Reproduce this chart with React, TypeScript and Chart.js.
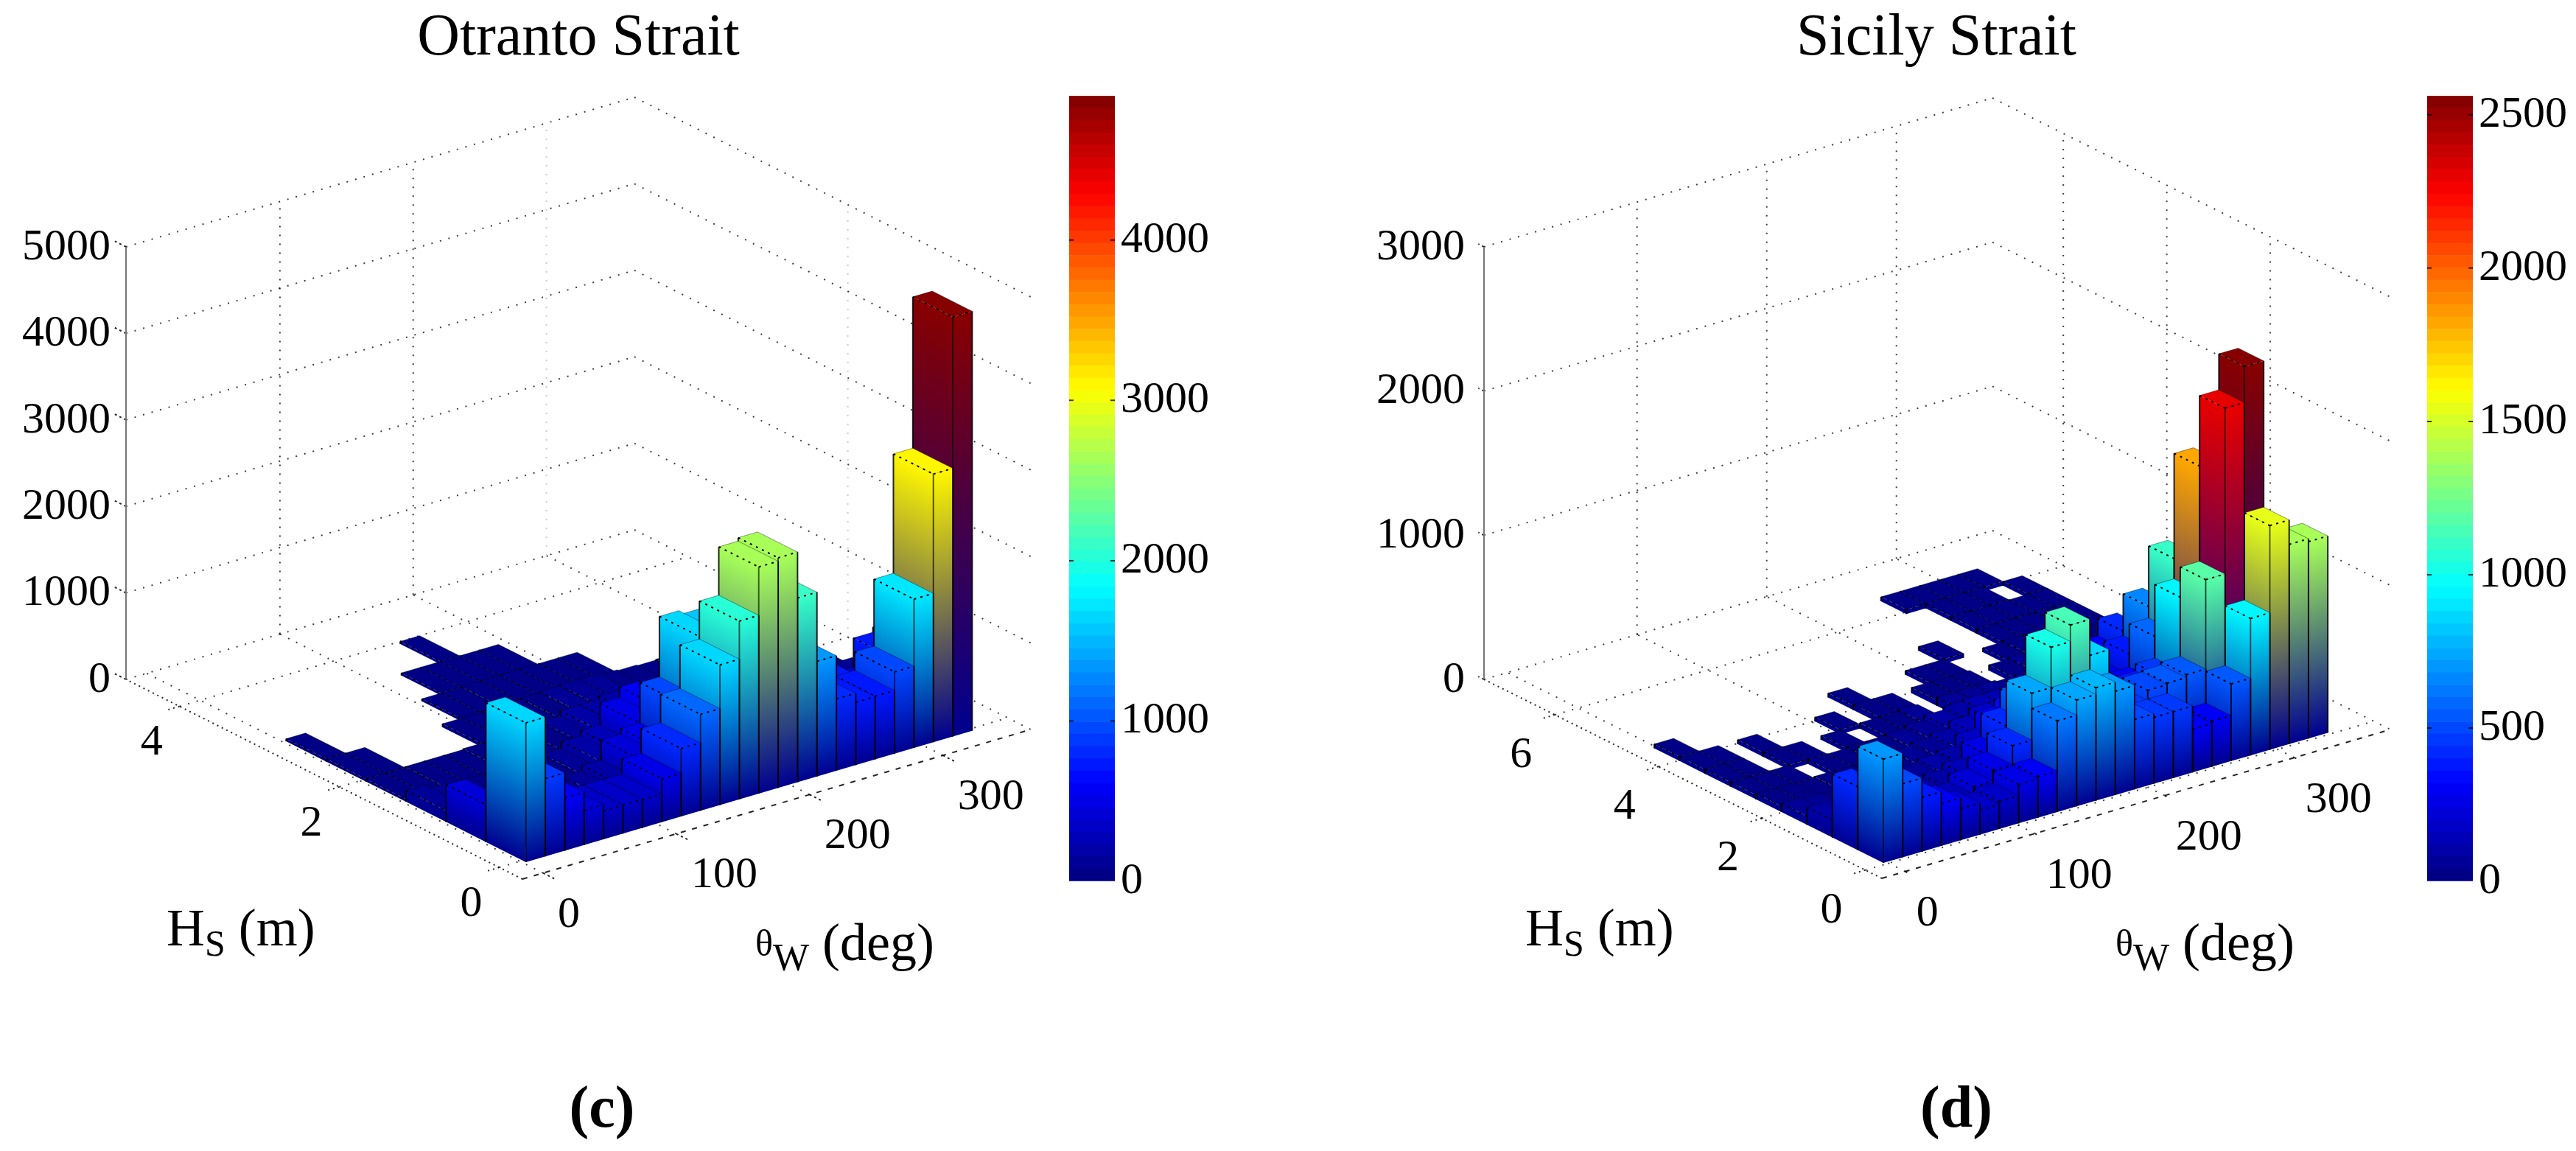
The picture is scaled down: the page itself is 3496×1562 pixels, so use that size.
import React, { useEffect, useRef } from "react";
import { Chart, registerables } from "chart.js";

Chart.register(...registerables);

const FONT = '"Liberation Serif", serif';

const otrantoRows: number[][] = [
  [1610, 900, 610, 400, 330, 330, 325, 500, 785, 1115, 1620, 2060, 2620, 2660, 2130, 1330, 830, 725, 730, 945, 1720, 3100, 4850],
  [430, 200, 150, 100, 80, 100, 130, 190, 420, 485, 950, 1650, 1600, 1300, 1300, 1200, 500, 500, 690, 300, 400, 740, 800],
  [130, 80, 60, 60, 60, 60, 70, 90, 170, 230, 480, 600, 400, 500, 400, 300, 250, 250, 150, 120, 100, 100, 150],
  [30, 30, 40, 40, 40, 50, 50, 60, 70, 100, 160, 160, 200, 200, 150, 150, 100, 100, 80, 60, 50, 50, 60],
  [30, 30, 0, 0, 0, 0, 40, 40, 50, 60, 70, 80, 90, 90, 70, 60, 50, 60, 40, 0, 0, 0, 0],
  [30, 0, 0, 0, 0, 0, 0, 30, 30, 40, 40, 40, 40, 40, 40, 0, 0, 0, 0, 0, 0, 0, 0],
  [0, 0, 0, 0, 0, 0, 0, 0, 30, 30, 30, 30, 30, 0, 0, 0, 0, 0, 0, 0, 0, 0, 0],
  [0, 0, 0, 0, 0, 0, 0, 0, 0, 0, 30, 0, 0, 0, 0, 0, 0, 0, 0, 0, 0, 0, 0],
];

const sicilyRows: number[][] = [
  [720, 510, 376, 293, 220, 170, 190, 270, 285, 632, 737, 783, 720, 485, 460, 460, 300, 315, 535, 950, 1555, 1385, 1365],
  [440, 200, 180, 150, 120, 150, 204, 280, 410, 735, 1015, 1130, 880, 400, 450, 520, 530, 550, 1170, 2320, 2570, 900, 600],
  [120, 90, 70, 70, 80, 90, 110, 150, 260, 420, 550, 500, 450, 300, 350, 400, 400, 450, 960, 1830, 800, 500, 400],
  [60, 50, 40, 50, 50, 60, 70, 90, 110, 185, 300, 350, 300, 300, 300, 300, 300, 300, 600, 1100, 500, 300, 200],
  [40, 40, 30, 40, 40, 40, 50, 60, 80, 100, 150, 200, 200, 200, 200, 200, 200, 250, 390, 680, 300, 150, 100],
  [30, 30, 30, 0, 30, 30, 40, 40, 50, 70, 100, 120, 130, 130, 130, 150, 150, 200, 300, 420, 200, 100, 80],
  [30, 30, 0, 30, 30, 0, 30, 0, 40, 40, 50, 0, 60, 60, 60, 50, 60, 80, 100, 100, 60, 50, 50],
  [30, 30, 0, 30, 0, 0, 0, 30, 0, 40, 40, 0, 40, 40, 40, 0, 40, 50, 60, 40, 40, 30, 30],
  [30, 0, 0, 0, 0, 0, 0, 0, 0, 30, 0, 0, 0, 30, 30, 0, 0, 30, 40, 40, 30, 30, 30],
  [0, 0, 0, 0, 0, 0, 0, 0, 0, 0, 0, 0, 0, 0, 0, 30, 0, 0, 30, 30, 30, 30, 30],
  [0, 0, 0, 0, 0, 0, 0, 0, 0, 0, 0, 0, 0, 0, 0, 0, 0, 0, 30, 30, 30, 30, 30],
  [0, 0, 0, 0, 0, 0, 0, 0, 0, 0, 0, 0, 0, 0, 0, 0, 0, 0, 30, 30, 30, 0, 30],
  [0, 0, 0, 0, 0, 0, 0, 0, 0, 0, 0, 0, 0, 0, 0, 0, 0, 30, 30, 30, 30, 30, 0],
];

const otrantoZTicks = [0, 1000, 2000, 3000, 4000, 5000];
const sicilyZTicks = [0, 1000, 2000, 3000];
const thetaTicks = [0, 100, 200, 300];
const otrantoHsTicks = [0, 2, 4];
const sicilyHsTicks = [0, 2, 4, 6];
const otrantoBarTicks = [0, 1000, 2000, 3000, 4000];
const sicilyBarTicks = [0, 500, 1000, 1500, 2000, 2500];

type Pt = [number, number];

function jet(v: number, max: number): [number, number, number] {
  const level = Math.min(63, Math.floor((Math.max(v, 0) / max) * 64));
  const t = (level + 0.5) / 64;
  const c = (x: number) => Math.round(255 * Math.max(0, Math.min(1, 1.5 - Math.abs(4 * t - x))));
  return [c(3), c(2), c(1)];
}
const rgb = (c: number[]) => `rgb(${c[0]},${c[1]},${c[2]})`;
const NAVY = [0, 0, 143];

interface Panel {
  id: string;
  left: number;
  width: number;
  title: string;
  tag: string;
  tagX: number;
  rows: number[][];
  thetaRange: [number, number];
  hsRange: [number, number];
  zMax: number;
  zTicks: number[];
  hsTicks: number[];
  cMax: number;
  cTicks: number[];
  theta0: number;
  thetaBin: number;
  hs0: number;
  hsBin: number;
  near: Pt;
  thetaEnd: Pt;
  hsEnd: Pt;
  zHeight: number;
  wallHs: number[];
  faintTheta: number[];
  hsOffset: Pt;
  thetaOffset: Pt;
  zLabelX: number;
  hsLabel: Pt;
  thetaLabel: Pt;
  cbLeft: number;
  cbWidth: number;
}

const panels: Panel[] = [
  {
    id: "otranto", left: 0, width: 1570, title: "Otranto Strait", tag: "(c)", tagX: 817,
    rows: otrantoRows, thetaRange: [-15.5, 366], hsRange: [-0.29, 4.67], zMax: 5000,
    zTicks: otrantoZTicks, hsTicks: otrantoHsTicks, cMax: 4900, cTicks: otrantoBarTicks,
    theta0: 2.1, thetaBin: 14.56, hs0: -0.04, hsBin: 0.5,
    near: [709, 1193], thetaEnd: [1399, 990], hsEnd: [171, 922], zHeight: 587,
    wallHs: [2], faintTheta: [300], hsOffset: [-38, 50], thetaOffset: [20, 57], zLabelX: 150,
    hsLabel: [226, 1265], thetaLabel: [1025, 1285], cbLeft: 1451, cbWidth: 62,
  },
  {
    id: "sicily", left: 1780, width: 1696, title: "Sicily Strait", tag: "(d)", tagX: 2655,
    rows: sicilyRows, thetaRange: [-18, 374], hsRange: [-0.32, 7.37], zMax: 3000,
    zTicks: sicilyZTicks, hsTicks: sicilyHsTicks, cMax: 2562, cTicks: sicilyBarTicks,
    theta0: -2.3, thetaBin: 14.9, hs0: 0.046, hsBin: 0.492,
    near: [2554, 1192], thetaEnd: [3244, 990], hsEnd: [2014, 922], zHeight: 587,
    wallHs: [2, 4, 6], faintTheta: [], hsOffset: [-46, 55], thetaOffset: [15, 58], zLabelX: 1988,
    hsLabel: [2070, 1265], thetaLabel: [2871, 1285], cbLeft: 3294, cbWidth: 62,
  },
];

function drawRuns(ctx: CanvasRenderingContext2D, x: number, y: number, runs: [string, number, number][]) {
  ctx.textAlign = "left";
  ctx.textBaseline = "alphabetic";
  ctx.fillStyle = "#000";
  let cx = x;
  for (const [t, size, dy] of runs) {
    ctx.font = `${size}px ${FONT}`;
    ctx.fillText(t, cx, y + dy);
    cx += ctx.measureText(t).width;
  }
}

function makePlugin(p: Panel) {
  return {
    id: "box3d-" + p.id,
    afterDatasetsDraw(chart: any) {
      const { ctx, chartArea: ca, scales } = chart;
      const off = p.left;
      const proj = (theta: number, hs: number, z: number): Pt => {
        const ft = (scales.x.getPixelForValue(theta) - ca.left) / ca.width;
        const fh = (scales.hs.getPixelForValue(hs) - ca.left) / ca.width;
        const fz = (ca.bottom - scales.y.getPixelForValue(z)) / ca.height;
        return [
          p.near[0] - off + ft * (p.thetaEnd[0] - p.near[0]) + fh * (p.hsEnd[0] - p.near[0]),
          p.near[1] + ft * (p.thetaEnd[1] - p.near[1]) + fh * (p.hsEnd[1] - p.near[1]) - fz * p.zHeight,
        ];
      };
      const line = (a: Pt, b: Pt) => {
        ctx.beginPath();
        ctx.moveTo(a[0], a[1]);
        ctx.lineTo(b[0], b[1]);
        ctx.stroke();
      };
      const [t0, t1] = p.thetaRange;
      const [h0, h1] = p.hsRange;

      ctx.save();
      ctx.lineWidth = 2;
      ctx.lineCap = "butt";
      ctx.setLineDash([2, 10]);
      ctx.strokeStyle = "rgba(0,0,0,0.75)";
      for (const z of p.zTicks) {
        line(proj(t0, h1, z), proj(t1, h1, z));
        line(proj(t1, h1, z), proj(t1, h0, z));
      }
      for (const t of thetaTicks) {
        line(proj(t, h0, 0), proj(t, h1, 0));
        if (t > 0) {
          ctx.strokeStyle = p.faintTheta.includes(t) ? "rgba(0,0,0,0.2)" : "rgba(0,0,0,0.75)";
          line(proj(t, h1, 0), proj(t, h1, p.zMax));
          ctx.strokeStyle = "rgba(0,0,0,0.75)";
        }
      }
      for (const h of p.hsTicks) {
        line(proj(t0, h, 0), proj(t1, h, 0));
        if (p.wallHs.includes(h)) {
          ctx.strokeStyle = p.wallHs.length === 1 ? "rgba(0,0,0,0.2)" : "rgba(0,0,0,0.75)";
          line(proj(t1, h, 0), proj(t1, h, p.zMax));
          ctx.strokeStyle = "rgba(0,0,0,0.75)";
        }
      }
      ctx.strokeStyle = "rgba(0,0,0,0.85)";
      ctx.setLineDash([2, 5]);
      line(proj(t0, h0, 0), proj(t0, h1, 0));
      for (const h of p.hsTicks) line(proj(t0, h, 0), proj(t0 - 9, h, 0));
      ctx.setLineDash([7, 9]);
      line(proj(t0, h0, 0), proj(t1, h0, 0));
      ctx.setLineDash([3, 4]);
      for (const t of thetaTicks) line(proj(t, h0, 0), proj(t, h0 - 0.14 * (4.96 / (h1 - h0)), 0));
      for (const z of p.zTicks) line(proj(t0, h1, z), proj(t0, h1 + 0.17 * (4.96 / (h1 - h0)), z));
      ctx.setLineDash([]);
      ctx.strokeStyle = "#777";
      line(proj(t0, h1, 0), proj(t0, h1, p.zMax));

      const data = chart.data.datasets[0].data as any[];
      const cells = [...data].sort((a, b) => b.i - a.i || b.j - a.j);
      const face = (a0: Pt, a1: Pt, b1: Pt, b0: Pt, color: string) => {
        const ex = a1[0] - a0[0];
        const ey = a1[1] - a0[1];
        const len = Math.hypot(ex, ey) || 1;
        const nx = -ey / len;
        const ny = ex / len;
        const d = (b0[0] - a0[0]) * nx + (b0[1] - a0[1]) * ny;
        const g = ctx.createLinearGradient(a0[0], a0[1], a0[0] + nx * d, a0[1] + ny * d);
        g.addColorStop(0, color);
        g.addColorStop(1, rgb(NAVY));
        ctx.fillStyle = g;
        ctx.beginPath();
        ctx.moveTo(a0[0], a0[1]);
        ctx.lineTo(a1[0], a1[1]);
        ctx.lineTo(b1[0], b1[1]);
        ctx.lineTo(b0[0], b0[1]);
        ctx.closePath();
        ctx.fill();
      };
      for (const c of cells) {
        const { x: th, y: z, hs } = c;
        const ta = th - p.thetaBin / 2;
        const tb = th + p.thetaBin / 2;
        const ha = hs - p.hsBin / 2;
        const hb = hs + p.hsBin / 2;
        const col = rgb(jet(z, p.cMax));
        const nearTop = proj(ta, ha, z);
        const nearBase = proj(ta, ha, 0);
        const leftTop = proj(ta, hb, z);
        const leftBase = proj(ta, hb, 0);
        const rightTop = proj(tb, ha, z);
        const rightBase = proj(tb, ha, 0);
        const backTop = proj(tb, hb, z);
        face(leftTop, nearTop, nearBase, leftBase, col);
        face(nearTop, rightTop, rightBase, nearBase, col);
        ctx.fillStyle = col;
        ctx.beginPath();
        ctx.moveTo(nearTop[0], nearTop[1]);
        ctx.lineTo(rightTop[0], rightTop[1]);
        ctx.lineTo(backTop[0], backTop[1]);
        ctx.lineTo(leftTop[0], leftTop[1]);
        ctx.closePath();
        ctx.fill();
        ctx.setLineDash([]);
        ctx.lineWidth = 2;
        ctx.strokeStyle = z > 700 ? "rgba(0,0,0,0.6)" : "rgba(0,0,0,0.85)";
        line(nearTop, nearBase);
        ctx.strokeStyle = "rgba(0,0,0,0.85)";
        line(leftTop, leftBase);
        line(rightTop, rightBase);
        ctx.lineWidth = 1;
        ctx.strokeStyle = "rgba(0,0,0,0.4)";
        line(leftTop, backTop);
        line(backTop, rightTop);
        ctx.lineWidth = 2;
        ctx.setLineDash([3, 6]);
        ctx.strokeStyle = "#000";
        line(leftTop, nearTop);
        line(nearTop, rightTop);
      }
      ctx.setLineDash([]);

      ctx.fillStyle = "#000";
      ctx.font = `60px ${FONT}`;
      ctx.textBaseline = "middle";
      ctx.textAlign = "right";
      for (const z of p.zTicks) {
        const q = proj(t0, h1, z);
        ctx.fillText(String(z), p.zLabelX - off, q[1] + 1);
      }
      ctx.textAlign = "center";
      for (const h of p.hsTicks) {
        const q = proj(t0, h, 0);
        ctx.fillText(String(h), q[0] + p.hsOffset[0], q[1] + p.hsOffset[1]);
      }
      ctx.textAlign = "left";
      for (const t of thetaTicks) {
        const q = proj(t, h0, 0);
        ctx.fillText(String(t), q[0] + p.thetaOffset[0], q[1] + p.thetaOffset[1]);
      }
      drawRuns(ctx, p.hsLabel[0] - off, p.hsLabel[1] + 18, [["H", 72, 0], ["S", 50, 14], [" (m)", 72, 0]]);
      drawRuns(ctx, p.thetaLabel[0] - off, p.thetaLabel[1] + 18, [["θ", 50, -6], ["W", 52, 14], [" (deg)", 72, 0]]);
      ctx.font = `bold 80px ${FONT}`;
      ctx.textAlign = "center";
      ctx.textBaseline = "middle";
      ctx.fillText(p.tag, p.tagX - off, 1508);
      ctx.restore();
    },
  };
}

function Panel3D({ p }: { p: Panel }) {
  const ref = useRef<HTMLCanvasElement>(null);
  useEffect(() => {
    const points: any[] = [];
    p.rows.forEach((row, j) =>
      row.forEach((v, i) => {
        if (v > 0) {
          points.push({
            i,
            j,
            x: p.theta0 + (i + 0.5) * p.thetaBin,
            hs: p.hs0 + (j + 0.5) * p.hsBin,
            y: v,
          });
        }
      })
    );
    const chart = new Chart(ref.current!, {
      type: "scatter",
      data: { datasets: [{ data: points, pointRadius: 0, showLine: false }] },
      options: {
        animation: false,
        responsive: false,
        devicePixelRatio: 1,
        layout: { padding: 0 },
        plugins: {
          legend: { display: false },
          tooltip: { enabled: false },
          title: {
            display: true,
            text: p.title,
            color: "#000",
            font: { family: FONT, size: 80, weight: "normal" },
            padding: { top: 5, bottom: 0 },
          },
        },
        scales: {
          x: { type: "linear", min: p.thetaRange[0], max: p.thetaRange[1], display: false },
          y: { type: "linear", min: 0, max: p.zMax, display: false },
          hs: { type: "linear", axis: "x", min: p.hsRange[0], max: p.hsRange[1], display: false },
        },
      } as any,
      plugins: [makePlugin(p)],
    } as any);
    return () => chart.destroy();
  }, [p]);
  return (
    <canvas
      ref={ref}
      width={p.width}
      height={1562}
      style={{ position: "absolute", left: p.left, top: 0, width: p.width, height: 1562 }}
    />
  );
}

function ColorBar({ p }: { p: Panel }) {
  const ref = useRef<HTMLCanvasElement>(null);
  useEffect(() => {
    const levels = Array.from({ length: 64 }, (_, k) => k);
    const axisW = 160;
    const chart = new Chart(ref.current!, {
      type: "bar",
      data: {
        labels: ["c"],
        datasets: levels.map((k) => ({
          data: [p.cMax / 64],
          backgroundColor: rgb(jet(((k + 0.5) / 64) * p.cMax, p.cMax)),
          borderWidth: 0,
          barPercentage: 1,
          categoryPercentage: 1,
        })),
      },
      options: {
        animation: false,
        responsive: false,
        devicePixelRatio: 1,
        layout: { padding: { top: 50, bottom: 54, left: 0, right: 0 } },
        plugins: { legend: { display: false }, tooltip: { enabled: false } },
        scales: {
          x: { stacked: true, display: false },
          y: {
            stacked: true,
            position: "right",
            min: 0,
            max: p.cMax,
            grid: { drawOnChartArea: false, drawTicks: false },
            border: { display: false },
            afterBuildTicks(s: any) {
              s.ticks = p.cTicks.map((value) => ({ value }));
            },
            ticks: {
              padding: 8,
              color: "#000",
              font: { family: FONT, size: 60 },
              callback: (v: any) => String(v),
            },
            afterFit(s: any) {
              s.width = axisW;
            },
          },
        },
      } as any,
      plugins: [
        {
          id: "cb-ticks-" + p.id,
          afterDatasetsDraw(c: any) {
            const { ctx, chartArea: a, scales } = c;
            ctx.save();
            ctx.strokeStyle = "rgba(0,0,0,0.75)";
            ctx.lineWidth = 2;
            for (const t of scales.y.ticks) {
              const y = scales.y.getPixelForValue(t.value);
              if (t.value === 0) continue;
              ctx.beginPath();
              ctx.moveTo(a.left, y);
              ctx.lineTo(a.left + 6, y);
              ctx.moveTo(a.right - 6, y);
              ctx.lineTo(a.right, y);
              ctx.stroke();
            }
            ctx.restore();
          },
        },
      ],
    } as any);
    return () => chart.destroy();
  }, [p]);
  return (
    <canvas
      ref={ref}
      width={p.cbWidth + 160}
      height={1170}
      style={{ position: "absolute", left: p.cbLeft, top: 80, width: p.cbWidth + 160, height: 1170 }}
    />
  );
}

export default function App() {
  return (
    <div style={{ position: "fixed", left: 0, top: 0, width: 3496, height: 1562, background: "#fff", overflow: "hidden" }}>
      {panels.map((p) => (
        <React.Fragment key={p.id}>
          <Panel3D p={p} />
          <ColorBar p={p} />
        </React.Fragment>
      ))}
    </div>
  );
}
